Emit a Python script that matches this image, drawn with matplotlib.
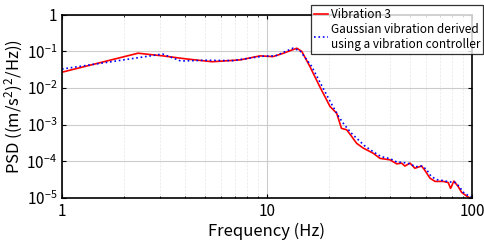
import matplotlib
matplotlib.use('Agg')
import matplotlib.pyplot as plt
import numpy as np

plt.rcParams['font.family'] = ['Noto Sans CJK JP', 'DejaVu Sans']
plt.rcParams['mathtext.fontset'] = 'custom'
plt.rcParams['mathtext.rm'] = 'Noto Sans CJK JP'
plt.rcParams['mathtext.default'] = 'regular'

# Vibration 3 (red)
red_f = [1, 2.35, 3.1, 4.0, 5.4, 7.4, 9.25, 10.7, 12.0, 14.0, 14.8, 16.2, 18.1,
         20.3, 21.9, 23.1, 24.5, 25.9, 27.4, 29.5, 33.0, 35.6, 39.8, 43.0, 45.4,
         47.1, 49.9, 52.7, 56.8, 59.0, 62.4, 66.1, 72.4, 76.6, 78.7, 81.7, 85.7,
         89.1, 94.2, 97.7, 100]
red_log_psd = [-1.566, -1.047, -1.12, -1.2, -1.28, -1.23, -1.12, -1.14, -1.05, -0.91,
               -1.0, -1.41, -1.96, -2.5, -2.69, -3.10, -3.14, -3.32, -3.51, -3.64,
               -3.78, -3.92, -3.96, -4.07, -4.05, -4.13, -4.05, -4.19, -4.13, -4.25,
               -4.46, -4.55, -4.55, -4.58, -4.74, -4.54, -4.69, -4.85, -4.95, -5.0, -5.02]

# Gaussian vibration from controller (blue)
blue_f = [1, 3.1, 3.8, 5.0, 6.8, 8.3, 9.5, 11, 13.4, 14.5, 16.5, 18.5, 20.5, 22.5,
          24.0, 26, 28, 30, 33, 36, 40, 43, 46, 50, 53, 57, 60, 63, 67, 73, 77, 80,
          83, 87, 91, 95, 100]
blue_log_psd = [-1.48, -1.07, -1.26, -1.24, -1.25, -1.18, -1.13, -1.12, -0.91, -0.98,
                -1.4, -1.93, -2.4, -2.8, -3.02, -3.25, -3.42, -3.58, -3.74, -3.87,
                -3.93, -4.02, -4.03, -4.07, -4.15, -4.13, -4.22, -4.4, -4.5, -4.53,
                -4.56, -4.57, -4.58, -4.7, -4.85, -4.92, -4.98]

y_ticks = [1e-5, 1e-4, 1e-3, 1e-2, 1e-1, 1]
y_labels = ['10$^{-5}$', '10$^{-4}$', '10$^{-3}$', '10$^{-2}$', '10$^{-1}$', '1']
x_ticks = [1, 10, 100]
x_labels = ['1', '10', '100']

fig = plt.figure(figsize=(4.84, 2.44), dpi=100)
ax = fig.add_axes([0.128, 0.189, 0.847, 0.75])

ax.loglog(red_f, 10 ** np.array(red_log_psd), color='red', lw=1.2, label='Vibration 3')
ax.loglog(blue_f, 10 ** np.array(blue_log_psd), color='blue', lw=1.2, ls=':',
          label='Gaussian vibration derived\nusing a vibration controller')

ax.set_xlim(1, 100)
ax.set_ylim(1e-5, 1)
ax.set_xticks(x_ticks, x_labels)
ax.set_yticks(y_ticks, y_labels)
ax.tick_params(which='both', direction='in', top=True, right=True, labelsize=11)
ax.tick_params(which='major', length=3)
ax.tick_params(which='minor', length=1.5)
ax.grid(which='major', color='#cccccc', lw=0.8)
ax.grid(which='minor', color='#e4e4e4', lw=0.5, ls=(0, (3, 2)))
for s in ax.spines.values():
    s.set_linewidth(1.2)

ax.set_xlabel('Frequency (Hz)', fontsize=12, labelpad=2)
ax.set_ylabel('PSD ((m/s$^{2}$)$^{2}$/Hz))', fontsize=12, labelpad=1)

leg = fig.legend(loc='upper right', bbox_to_anchor=(0.998, 0.98), fontsize=8.5,
                 frameon=True, fancybox=False, edgecolor='black', handlelength=1.2,
                 handletextpad=0.2, borderpad=0.25, labelspacing=0.15, borderaxespad=0)
leg.get_frame().set_linewidth(0.9)

fig.savefig('out.png', dpi=100)
